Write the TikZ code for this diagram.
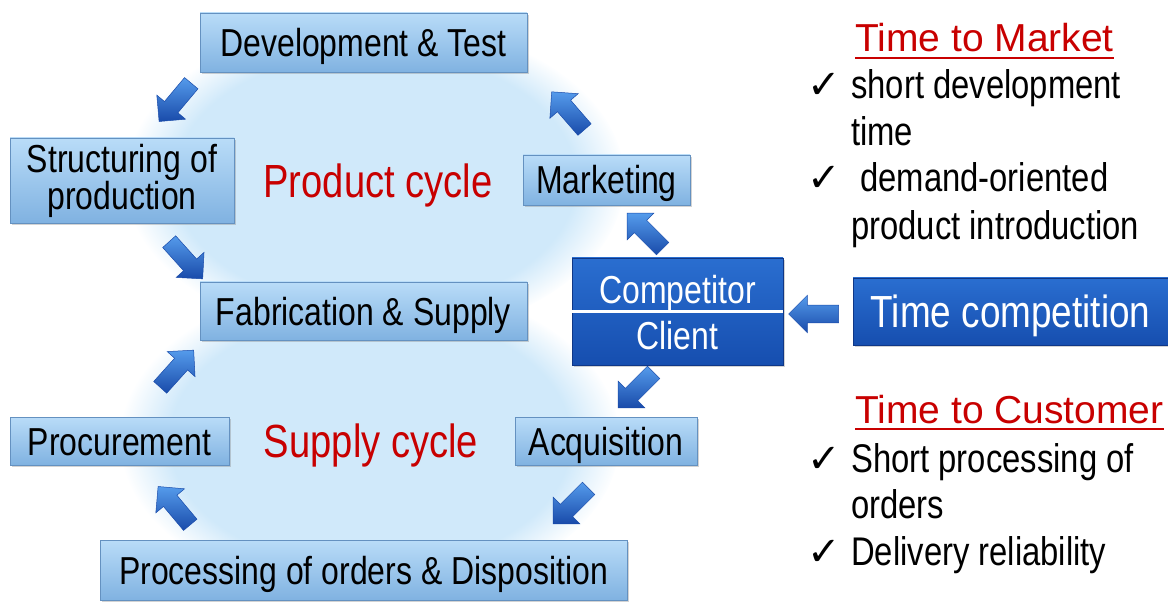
\documentclass[tikz,border=0pt]{standalone}
\usepackage{fontspec}
\setmainfont{Liberation Sans}[FakeStretch=0.82]
\newfontfamily\widefont{Liberation Sans}
\newfontfamily\symfont{DejaVu Sans}
\usepackage{xcolor}
\usetikzlibrary{shapes,arrows,positioning,calc,shadows,fadings,shapes.arrows}

\definecolor{glow}{RGB}{208,233,250}
\definecolor{boxtop}{RGB}{185,220,248}
\definecolor{boxbot}{RGB}{128,178,225}
\definecolor{boxline}{RGB}{100,145,192}
\definecolor{darktop}{RGB}{42,110,208}
\definecolor{darkbot}{RGB}{22,78,175}
\definecolor{darkline}{RGB}{15,55,135}
\definecolor{arrlight}{RGB}{85,155,235}
\definecolor{arrdark}{RGB}{25,75,170}
\definecolor{cyclered}{RGB}{200,0,0}

\begin{document}
\begin{tikzpicture}[x=1pt, y=-1pt,
    lightbox/.style={draw=boxline, line width=0.8pt, top color=boxtop, bottom color=boxbot,
        inner sep=0pt, align=center, font=\fontsize{39}{37}\selectfont,
        drop shadow={shadow xshift=2pt, shadow yshift=-2pt, opacity=0.35}},
    flatbox/.style={lightbox, text height=28pt, text depth=0pt},
    darkbox/.style={draw=darkline, line width=0.8pt, top color=darktop, bottom color=darkbot,
        inner sep=0pt, text=white,
        drop shadow={shadow xshift=2pt, shadow yshift=-2pt, opacity=0.35}},
    blockarrow/.style={single arrow, draw=arrdark, line width=0.5pt, top color=arrlight,
        bottom color=arrdark, inner xsep=0pt, inner ysep=8.5pt,
        single arrow head extend=10pt, minimum height=50pt},
    cyclelabel/.style={text=cyclered, text height=33pt, text depth=0pt,
        font=\fontsize{46.5}{50}\selectfont},
    headline/.style={text=cyclered, inner sep=0pt, anchor=base west,
        font=\widefont\fontsize{39}{44}\selectfont},
    listline/.style={inner sep=0pt, anchor=base west, font=\fontsize{40}{44}\selectfont},
    tick/.style={inner sep=0pt, anchor=base west, font=\symfont\fontsize{40}{44}\selectfont}]
    \useasboundingbox (0,0) rectangle (1168,604);

    % glow behind the two cycles
    \fill[glow, path fading=circle with fuzzy edge 20 percent] (375,180) ellipse [x radius=250, y radius=160];
    \fill[glow, path fading=circle with fuzzy edge 20 percent] (370,440) ellipse [x radius=250, y radius=160];

    % product cycle
    \node[flatbox, minimum width=327, minimum height=59] (dev) at (363.5,42.5) {Development \& Test};
    \node[lightbox, minimum width=224, minimum height=85] (struct) at (122,180.5) {Structuring of\\production};
    \node[flatbox, minimum width=167, minimum height=50] (mkt) at (606.5,180) {Marketing};
    \node[flatbox, minimum width=327, minimum height=58] (fab) at (363.5,311) {Fabrication \& Supply};
    \node[cyclelabel] (pc) at (378,181) {Product cycle};

    % supply cycle
    \node[flatbox, minimum width=219, minimum height=48] (proc) at (119.5,441) {Procurement};
    \node[flatbox, minimum width=182, minimum height=48] (acq) at (606,441) {Acquisition};
    \node[flatbox, minimum width=527, minimum height=60] (pod) at (363.5,570) {Processing of orders \& Disposition};
    \node[cyclelabel] (sc) at (371,441) {Supply cycle};

    % competitor / client and time competition
    \node[darkbox, minimum width=211, minimum height=107] (comp) at (677.5,311.5) {};
    \draw[white, line width=2.5pt] (comp.west) -- (comp.east);
    \node[anchor=base, inner sep=0pt, text=white, font=\fontsize{39}{44}\selectfont] (compt) at ([yshift=8pt]comp.center) {Competitor};
    \node[anchor=base, inner sep=0pt, text=white, font=\fontsize{39}{44}\selectfont] (client) at ([yshift=-38pt]comp.center) {Client};
    \node[darkbox, minimum width=315, minimum height=67, text height=32pt, text depth=0pt,
        font=\fontsize{45}{50}\selectfont] (tc) at (1010.5,311.5) {Time competition};

    % block arrows
    \node[blockarrow, rotate=230] (a1) at (178,99) {};
    \node[blockarrow, rotate=-48] (a2) at (183,257) {};
    \node[blockarrow, rotate=131] (a3) at (571,114) {};
    \node[blockarrow, rotate=135] (a4) at (648,234) {};
    \node[blockarrow, rotate=180] (a5) at (818,314) {};
    \node[blockarrow, rotate=225] (a6) at (639,387) {};
    \node[blockarrow, rotate=225] (a7) at (574,503) {};
    \node[blockarrow, rotate=130] (a8) at (177,509) {};
    \node[blockarrow, rotate=48] (a9) at (174,372) {};

    % time to market
    \node[headline] (ttm) at (855,52) {Time to Market};
    \draw[cyclered, line width=2.5pt] ([yshift=-6pt]ttm.base west) -- ([yshift=-6pt]ttm.base east);
    \node[tick] (k1) at (807,99) {✓};
    \node[listline] (m1) at (851,99) {short development};
    \node[listline] (m2) at (851,146) {time};
    \node[tick] (k2) at (807,192) {✓};
    \node[listline] (m3) at (851,192) {\ demand-oriented};
    \node[listline] (m4) at (851,240) {product introduction};

    % time to customer
    \node[headline] (ttc) at (855,423) {Time to Customer};
    \draw[cyclered, line width=2.5pt] ([yshift=-6pt]ttc.base west) -- ([yshift=-6pt]ttc.base east);
    \node[tick] (k3) at (807,472) {✓};
    \node[listline] (c1) at (851,472) {Short processing of};
    \node[listline] (c2) at (851,518) {orders};
    \node[tick] (k4) at (807,565) {✓};
    \node[listline] (c3) at (851,565) {Delivery reliability};
\end{tikzpicture}
\end{document}
